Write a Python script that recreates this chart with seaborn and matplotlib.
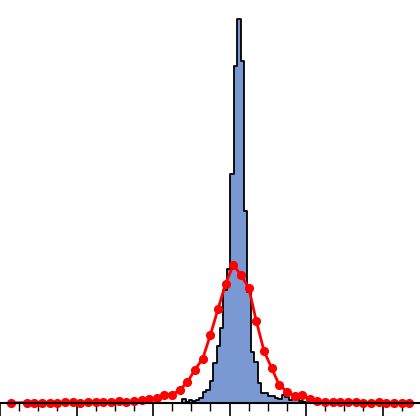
import numpy as np
import matplotlib
matplotlib.use("Agg")
import matplotlib.pyplot as plt
from matplotlib.ticker import MultipleLocator
import seaborn as sns

# histogram: bin edges and bin heights
hist_edges = [-0.62, -0.575, -0.53, -0.485, -0.44, -0.395, -0.35, -0.305, -0.26,
              -0.215, -0.17, -0.125, -0.08, -0.035, 0.01, 0.055, 0.1, 0.145, 0.19,
              0.235, 0.28, 0.325, 0.37, 0.415, 0.46, 0.505, 0.55, 0.595, 0.64,
              0.685, 0.73, 0.775, 0.82, 0.865, 0.91, 0.955, 1.0]
hist_counts = [4, 1, 3, 2, 3, 5, 11, 13, 22, 40, 57, 75, 113, 134, 229, 337, 384,
               342, 192, 111, 51, 41, 20, 10, 10, 7, 7, 5, 4, 8, 6, 3, 4, 4, 2, 1]

# red curve
curve_x = [-2.85, -2.65, -2.55, -2.45, -2.35, -2.25, -2.15, -2.05, -1.95, -1.85,
           -1.75, -1.65, -1.55, -1.45, -1.35, -1.25, -1.15, -1.05, -0.95, -0.85,
           -0.75, -0.65, -0.55, -0.45, -0.35, -0.25, -0.15, -0.05, 0.05, 0.15,
           0.25, 0.35, 0.45, 0.55, 0.65, 0.75, 0.85, 0.95, 1.05, 1.15, 1.25,
           1.35, 1.45, 1.55, 1.65, 1.75, 1.85, 1.95, 2.05, 2.15, 2.25, 2.35]
curve_y = [0, 0.5, 0.5, 0.5, 0.5, 0.3, 0.8, 0.8, 0.5, 1.3,
           1.3, 1.0, 1.3, 2.0, 1.3, 2.0, 2.7, 3.7, 5.3, 8.5,
           8.5, 13, 21, 33.5, 44.5, 68, 94, 119.5, 138, 128,
           115.5, 82, 52.3, 35, 18, 11.5, 7, 8, 4.2, 2.5, 1.3,
           0.7, 1.0, 0.7, 1.3, 0, 0, 0.7, 0, 0, 0.3, 0]

centers = [(a + b) / 2 for a, b in zip(hist_edges[:-1], hist_edges[1:])]

sns.set_theme(style="ticks")
fig = plt.figure(figsize=(4.2, 4.16), dpi=100)
ax = fig.add_axes([0, 13 / 416, 1, 403 / 416])

sns.histplot(x=centers, weights=hist_counts, bins=hist_edges, element="step",
             fill=True, color="#7a99d3", edgecolor="black", linewidth=1.3,
             alpha=1, ax=ax)
sns.lineplot(x=curve_x, y=curve_y, color="red", marker="o", markersize=6.6,
             markeredgewidth=0, linewidth=2.0, clip_on=False, ax=ax)

ax.set_xlim(-3.0, 2.49)
ax.set_ylim(0, 403)
ax.set_xlabel("")
ax.set_ylabel("")
ax.set_yticks([])
ax.xaxis.set_major_locator(MultipleLocator(1))
ax.xaxis.set_minor_locator(MultipleLocator(0.25))
ax.tick_params(axis="x", which="major", length=12, width=1.2, direction="out",
               color="black", labelbottom=False)
ax.tick_params(axis="x", which="minor", length=6, width=1.0, direction="out",
               color="black")
sns.despine(ax=ax, left=True, top=True, right=True)
ax.spines["bottom"].set_linewidth(1.5)
ax.spines["bottom"].set_color("black")
ax.set_facecolor("white")

fig.savefig("out.png", dpi=100)
